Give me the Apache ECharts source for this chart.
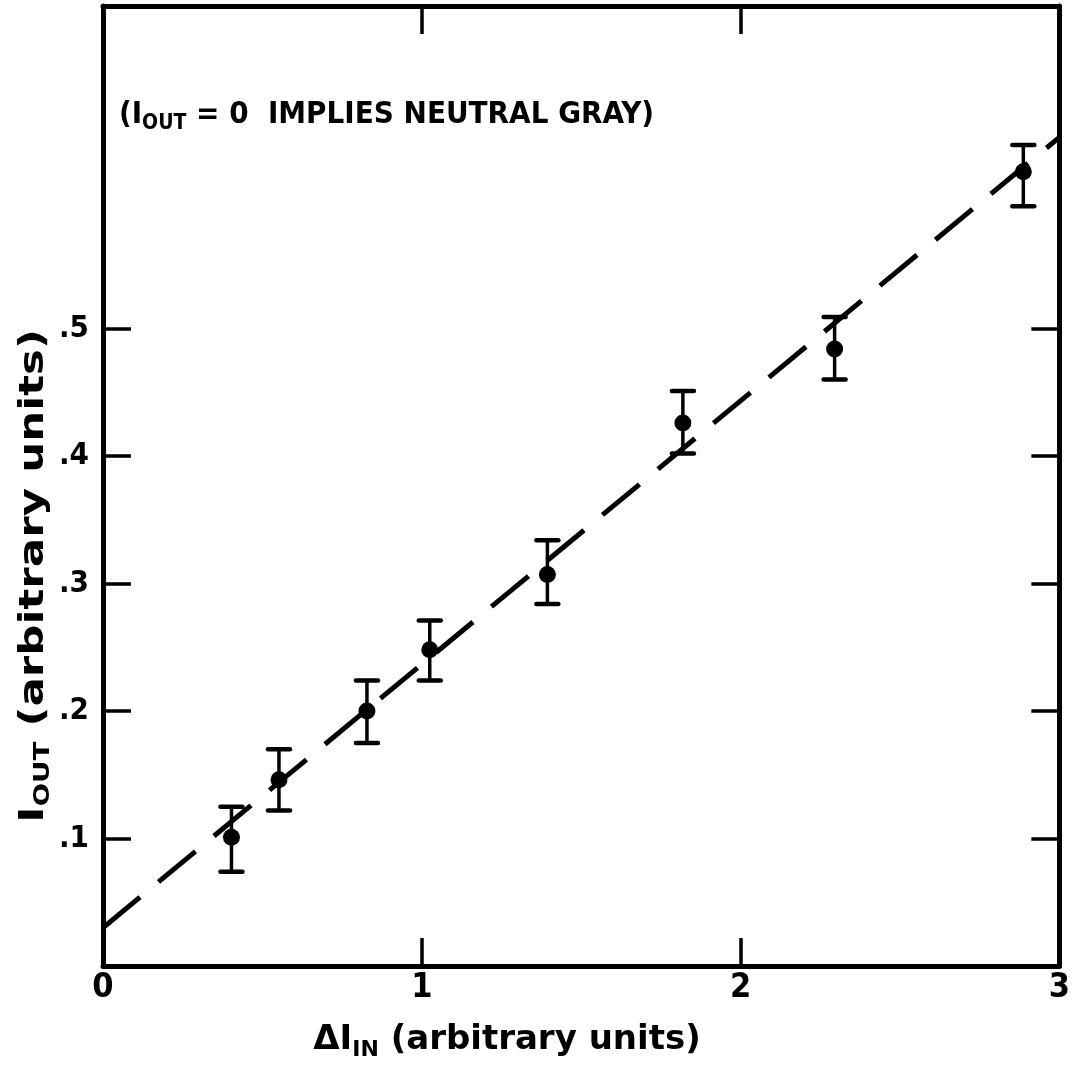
<!DOCTYPE html>
<html>
<head>
<meta charset="utf-8">
<script src="https://cdn.jsdelivr.net/npm/echarts@6/dist/echarts.min.js"></script>
<style>
html,body{margin:0;padding:0;background:#fff;}
#chart{width:1073px;height:1075px;}
</style>
</head>
<body>
<div id="chart"></div>
<script>
// ---- data ----
const xValues   = [0.403, 0.552, 0.828, 1.025, 1.394, 1.819, 2.295, 2.887];
const yValues   = [0.101, 0.146, 0.200, 0.248, 0.307, 0.426, 0.484, 0.623];
const yErrLow   = [0.074, 0.122, 0.175, 0.224, 0.284, 0.402, 0.460, 0.596];
const yErrHigh  = [0.125, 0.170, 0.224, 0.271, 0.334, 0.451, 0.509, 0.644];
const fitX      = [0, 3];
const fitY      = [0.030, 0.650];
const xTicks    = [0, 1, 2, 3];
const yTicks    = [0.1, 0.2, 0.3, 0.4, 0.5];
const xMin = 0, xMax = 3, yMin = 0, yMax = 0.753;

const FONT = '"DejaVu Sans", sans-serif';
const CFONT = '"DejaVu Sans Condensed", "DejaVu Sans", sans-serif';
const chart = echarts.init(document.getElementById('chart'), null, {renderer: 'canvas'});

const points = xValues.map((x, i) => [x, yValues[i]]);
const errData = xValues.map((x, i) => [x, yErrLow[i], yErrHigh[i]]);
const fitData = fitX.map((x, i) => [x, fitY[i]]);

const frameLine = {show: true, onZero: false, lineStyle: {color: '#000', width: 5, cap: 'round'}};
const tickStyle = {show: true, inside: true, length: 28, lineStyle: {color: '#000', width: 3.5}};

const option = {
  animation: false,
  backgroundColor: '#fff',
  grid: {left: 103, right: 13, top: 6, bottom: 109, containLabel: false},
  xAxis: [
    {
      type: 'value', min: xMin, max: xMax, interval: 1, position: 'bottom',
      axisLine: frameLine,
      axisTick: Object.assign({}, tickStyle, {customValues: xTicks}),
      axisLabel: {show: true, customValues: xTicks, color: '#000', fontFamily: CFONT, fontWeight: 'bold', fontSize: 34, margin: 5},
      splitLine: {show: false}
    },
    {
      type: 'value', min: xMin, max: xMax, interval: 1, position: 'top',
      axisLine: frameLine,
      axisTick: Object.assign({}, tickStyle, {customValues: xTicks}),
      axisLabel: {show: false},
      splitLine: {show: false}
    }
  ],
  yAxis: [
    {
      type: 'value', min: yMin, max: yMax, interval: 0.1, position: 'left',
      axisLine: frameLine,
      axisTick: Object.assign({}, tickStyle, {customValues: yTicks}),
      axisLabel: {show: true, customValues: yTicks, color: '#000', fontFamily: CFONT, fontWeight: 'bold', fontSize: 31, margin: 14,
        formatter: v => '.' + Math.round(v * 10)},
      splitLine: {show: false}
    },
    {
      type: 'value', min: yMin, max: yMax, interval: 0.1, position: 'right',
      axisLine: frameLine,
      axisTick: Object.assign({}, tickStyle, {customValues: yTicks}),
      axisLabel: {show: false},
      splitLine: {show: false}
    }
  ],
  graphic: [
    {
      type: 'text', left: 119, top: 99,
      style: {
        text: '{m|(I}{s|OUT}{m| = 0  IMPLIES NEUTRAL GRAY)}',
        rich: {
          m: {fontFamily: CFONT, fontWeight: 'bold', fontSize: 31, fill: '#000'},
          s: {fontFamily: CFONT, fontWeight: 'bold', fontSize: 21, fill: '#000', padding: [18, 0, 0, 0]}
        }
      }
    },
    {
      type: 'text', x: 507, y: 1040,
      style: {
        text: '{m|ΔI}{s|IN}{m| (arbitrary units)}',
        align: 'center', verticalAlign: 'middle',
        rich: {
          m: {fontFamily: FONT, fontWeight: 'bold', fontSize: 34, fill: '#000'},
          s: {fontFamily: FONT, fontWeight: 'bold', fontSize: 22, fill: '#000', padding: [20, 0, 0, 0]}
        }
      }
    },
    {
      type: 'text', x: 34, y: 576, rotation: Math.PI / 2, scaleX: 1.32, scaleY: 1,
      style: {
        text: '{m|I}{s|OUT}{m| (arbitrary units)}',
        align: 'center', verticalAlign: 'middle',
        rich: {
          m: {fontFamily: FONT, fontWeight: 'bold', fontSize: 33, fill: '#000'},
          s: {fontFamily: FONT, fontWeight: 'bold', fontSize: 21, fill: '#000', padding: [20, 0, 0, 0]}
        }
      }
    }
  ],
  series: [
    {
      type: 'line', data: fitData, symbol: 'none', silent: true, z: 2,
      lineStyle: {color: '#000', width: 5, type: [48, 24], cap: 'butt'}
    },
    {
      type: 'custom', data: errData, z: 3, silent: true,
      renderItem: function (params, api) {
        const x = api.value(0);
        const lo = api.coord([x, api.value(1)]);
        const hi = api.coord([x, api.value(2)]);
        const hw = 11;
        const cap = {stroke: '#000', lineWidth: 4.5, lineCap: 'round'};
        return {
          type: 'group',
          children: [
            {type: 'line', shape: {x1: lo[0], y1: lo[1], x2: hi[0], y2: hi[1]}, style: {stroke: '#000', lineWidth: 3.5}},
            {type: 'line', shape: {x1: lo[0] - hw, y1: lo[1], x2: lo[0] + hw, y2: lo[1]}, style: cap},
            {type: 'line', shape: {x1: hi[0] - hw, y1: hi[1], x2: hi[0] + hw, y2: hi[1]}, style: cap}
          ]
        };
      }
    },
    {
      type: 'scatter', data: points, symbol: 'circle', symbolSize: 17, z: 4,
      itemStyle: {color: '#000', opacity: 1}
    }
  ]
};
chart.setOption(option);
</script>
</body>
</html>
